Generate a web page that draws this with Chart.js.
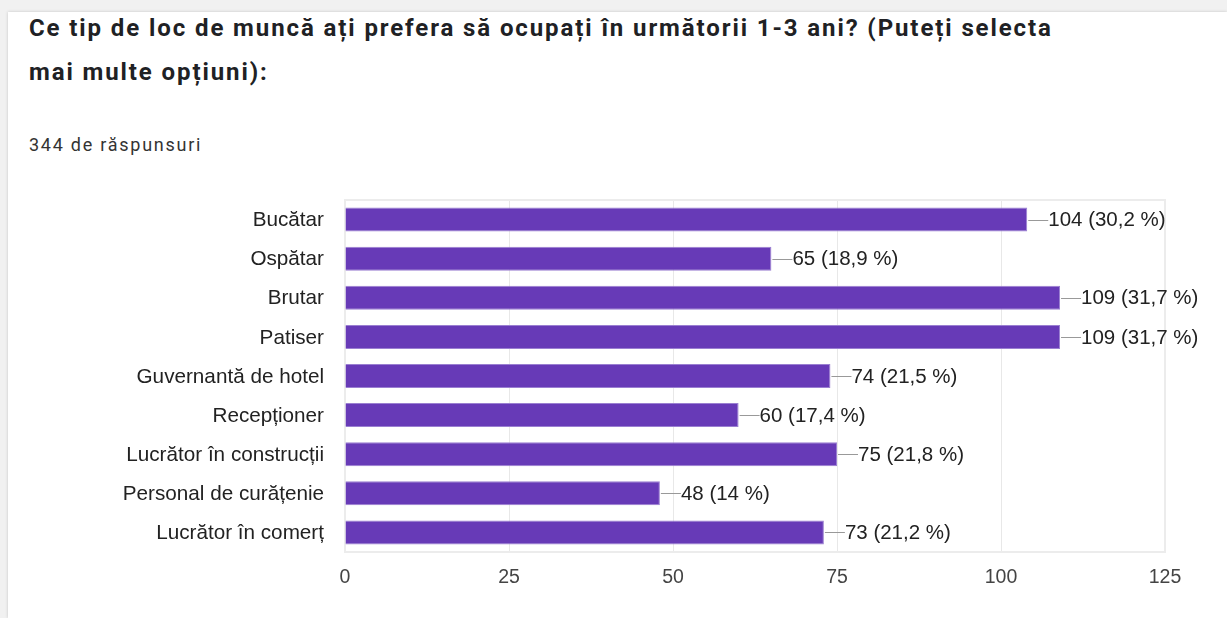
<!DOCTYPE html>
<html lang="ro">
<head>
<meta charset="utf-8">
<script src="https://cdn.jsdelivr.net/npm/chart.js@4.4.1/dist/chart.umd.min.js"></script>
<style>
  html, body { margin: 0; padding: 0; width: 1227px; height: 618px; overflow: hidden; background: #f1f1f1; }
  .card { position: absolute; left: 8px; top: 12px; right: 0; bottom: 0; background: #fff;
          box-shadow: 0 0 3px rgba(0,0,0,0.18); }
  .title { position: absolute; left: 29px; top: 6px; margin: 0; font: bold 24px Roboto, sans-serif;
           letter-spacing: 1.9px; line-height: 44px; color: #202124; white-space: nowrap; }
  .sub { position: absolute; left: 29px; top: 134px; font: 18px Roboto, sans-serif; letter-spacing: 1.75px; color: #333; }
  #chart { position: absolute; left: 0; top: 0; }
</style>
</head>
<body>
<div class="card"></div>
<div class="title">Ce tip de loc de muncă ați prefera să ocupați în următorii 1-3 ani? (Puteți selecta<br>mai multe opțiuni):</div>
<div class="sub">344 de răspunsuri</div>
<canvas id="chart" width="1227" height="618"></canvas>
<script>
const categories = ['Bucătar', 'Ospătar', 'Brutar', 'Patiser', 'Guvernantă de hotel', 'Recepționer',
  'Lucrător în construcții', 'Personal de curățenie', 'Lucrător în comerț'];
const counts = [104, 65, 109, 109, 74, 60, 75, 48, 73];
const percents = ['30,2', '18,9', '31,7', '31,7', '21,5', '17,4', '21,8', '14', '21,2'];
const xTicks = [0, 25, 50, 75, 100, 125];

const FONT = '"Liberation Sans", Arial, sans-serif';

// leader line + "n (p %)" next to each bar
const barLabels = {
  id: 'barLabels',
  afterDatasetsDraw(chart) {
    const ctx = chart.ctx;
    const meta = chart.getDatasetMeta(0);
    ctx.save();
    ctx.font = '20.5px ' + FONT;
    ctx.textBaseline = 'middle';
    ctx.fillStyle = '#222';
    meta.data.forEach((bar, i) => {
      const y = Math.round(bar.y) + 0.5;
      ctx.strokeStyle = '#999';
      ctx.lineWidth = 1;
      ctx.beginPath();
      ctx.moveTo(bar.x + 1, y);
      ctx.lineTo(bar.x + 21, y);
      ctx.stroke();
      ctx.fillText(counts[i] + ' (' + percents[i] + ' %)', bar.x + 21, bar.y + 1);
    });
    ctx.restore();
  }
};

// faint frame round the plot area
const frame = {
  id: 'frame',
  beforeDatasetsDraw(chart) {
    const { ctx, chartArea: a } = chart;
    ctx.save();
    ctx.strokeStyle = '#ececec';
    ctx.lineWidth = 2;
    ctx.strokeRect(a.left, a.top, a.right - a.left, a.bottom - a.top);
    ctx.restore();
  }
};

new Chart(document.getElementById('chart'), {
  type: 'bar',
  data: {
    labels: categories,
    datasets: [{
      data: counts,
      backgroundColor: '#673ab7',
      borderColor: '#9a7fd1',
      borderWidth: 1,
      borderSkipped: 'left',
      categoryPercentage: 1,
      barPercentage: 0.614
    }]
  },
  options: {
    indexAxis: 'y',
    responsive: false,
    animation: false,
    layout: { padding: { left: 0, top: 200, right: 62, bottom: 0 } },
    plugins: { legend: { display: false }, tooltip: { enabled: false } },
    scales: {
      x: {
        min: 0, max: 125,
        afterBuildTicks: (s) => { s.ticks = xTicks.map(v => ({ value: v })); },
        afterFit: (s) => { s.height = 66; },
        grid: { color: '#e8e8e8', drawTicks: false },
        border: { display: false },
        ticks: { color: '#444', font: { family: FONT, size: 19.5 }, padding: 14 }
      },
      y: {
        afterFit: (s) => { s.width = 345; },
        grid: { display: false, drawTicks: false },
        border: { display: true, color: '#333', width: 2 },
        ticks: { color: '#222', font: { family: FONT, size: 20.7 }, padding: 21, labelOffset: 1 }
      }
    }
  },
  plugins: [frame, barLabels]
});
</script>
</body>
</html>
